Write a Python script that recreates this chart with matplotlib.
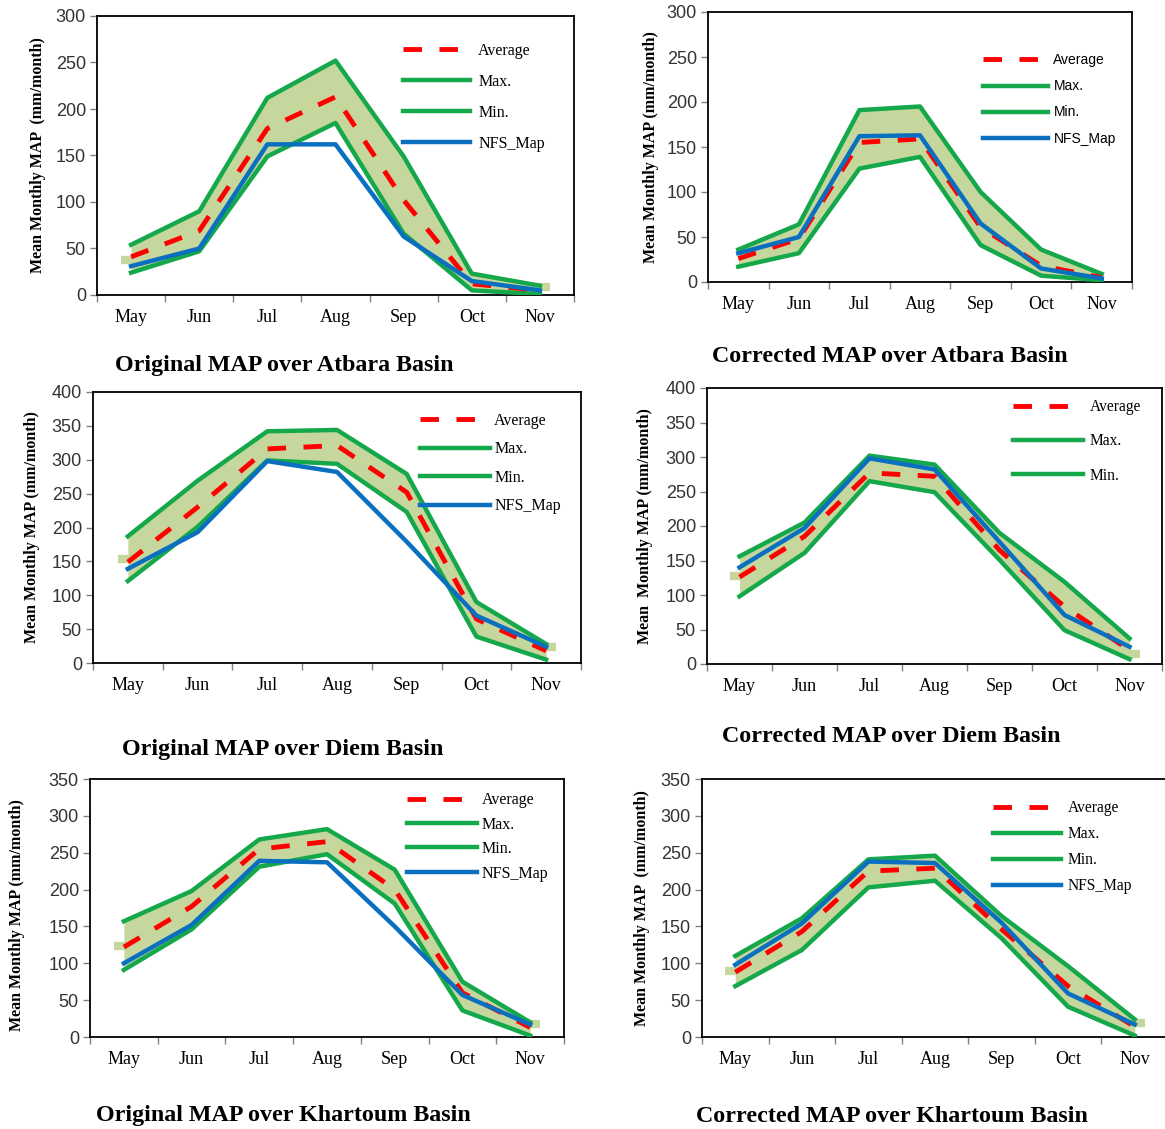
import matplotlib
matplotlib.use("Agg")
import matplotlib.pyplot as plt
import numpy as np

months = ["May", "Jun", "Jul", "Aug", "Sep", "Oct", "Nov"]

# Atbara basin
atb_orig_avg = [41, 69, 179, 213, 102, 12, 5]
atb_orig_max = [54, 90, 212, 252, 149, 23, 10]
atb_orig_min = [24, 47, 149, 185, 66, 5, 1]
atb_orig_nfs = [31, 50, 162, 162, 63, 15, 5]
atb_orig_ends = [38, 9]

atb_corr_avg = [26, 48, 155, 159, 61, 18, 5]
atb_corr_max = [36, 64, 191, 195, 100, 36, 9]
atb_corr_min = [17, 32, 126, 139, 41, 7, 2]
atb_corr_nfs = [32, 50, 162, 163, 65, 15, 4]

# Diem basin
diem_orig_avg = [149, 230, 316, 321, 252, 65, 18]
diem_orig_max = [187, 269, 342, 344, 279, 90, 28]
diem_orig_min = [121, 201, 299, 294, 223, 39, 5]
diem_orig_nfs = [139, 193, 298, 282, 179, 70, 24]
diem_orig_ends = [154, 24]

diem_corr_avg = [126, 185, 277, 272, 165, 83, 20]
diem_corr_max = [156, 205, 302, 289, 190, 119, 37]
diem_corr_min = [98, 161, 265, 249, 151, 49, 7]
diem_corr_nfs = [140, 197, 298, 282, 177, 71, 25]
diem_corr_ends = [127, 15]

# Khartoum basin
kht_orig_avg = [122, 177, 255, 265, 200, 60, 13]
kht_orig_max = [157, 198, 268, 282, 227, 75, 20]
kht_orig_min = [91, 146, 231, 248, 181, 36, 2]
kht_orig_nfs = [100, 152, 239, 237, 150, 57, 17]
kht_orig_ends = [124, 18]

kht_corr_avg = [88, 143, 225, 229, 146, 69, 14]
kht_corr_max = [110, 161, 241, 246, 164, 96, 24]
kht_corr_min = [69, 118, 203, 212, 134, 41, 2]
kht_corr_nfs = [98, 154, 238, 236, 155, 59, 17]
kht_corr_ends = [89, 19]

serif = "Liberation Serif"
sans = "Liberation Sans"
green = "#14a84b"
red = "#ff0000"
blue = "#0b6fbf"
band = "#c6d79e"

W, H = 1165, 1129
fig = plt.figure(figsize=(W / 100, H / 100), dpi=100)


def box(l, r, t, b):
    return [l / W, 1 - b / H, (r - l) / W, (b - t) / H]


panels = [
    dict(avg=atb_orig_avg, mx=atb_orig_max, mn=atb_orig_min, nfs=atb_orig_nfs, ends=atb_orig_ends,
         ymax=300, pos=(97, 574, 16, 295), title="Original MAP over Atbara Basin", tpos=(284, 366),
         ylab="Mean Monthly MAP  (mm/month)", ylpos=(38, 155),
         leg=(0.642, 0.905), lfont=serif, lsize=11.5, hl=4.2, tp=0.5, ls=0.95, show_nfs=True),
    dict(avg=atb_corr_avg, mx=atb_corr_max, mn=atb_corr_min, nfs=atb_corr_nfs, ends=None,
         ymax=300, pos=(708, 1132, 12, 282), title="Corrected MAP over Atbara Basin", tpos=(890, 356),
         ylab="Mean Monthly MAP (mm/month)", ylpos=(651, 147),
         leg=(0.649, 0.847), lfont=sans, lsize=10, hl=4.7, tp=0.36, ls=0.87, show_nfs=True),
    dict(avg=diem_orig_avg, mx=diem_orig_max, mn=diem_orig_min, nfs=diem_orig_nfs, ends=diem_orig_ends,
         ymax=400, pos=(93, 581, 392, 663), title="Original MAP over Diem Basin", tpos=(283, 749),
         ylab="Mean Monthly MAP (mm/month)", ylpos=(32, 527),
         leg=(0.670, 0.923), lfont=serif, lsize=11.5, hl=4.4, tp=0.25, ls=0.78, show_nfs=True),
    dict(avg=diem_corr_avg, mx=diem_corr_max, mn=diem_corr_min, nfs=diem_corr_nfs, ends=diem_corr_ends,
         ymax=400, pos=(707, 1162, 388, 664), title="Corrected MAP over Diem Basin", tpos=(891, 737),
         ylab="Mean  Monthly MAP (mm/month)", ylpos=(645, 526),
         leg=(0.673, 0.960), lfont=serif, lsize=11.2, hl=4.5, tp=0.4, ls=1.18, show_nfs=False),
    dict(avg=kht_orig_avg, mx=kht_orig_max, mn=kht_orig_min, nfs=kht_orig_nfs, ends=kht_orig_ends,
         ymax=350, pos=(90, 564, 779, 1037), title="Original MAP over Khartoum Basin", tpos=(283, 1116),
         ylab="Mean Monthly MAP (mm/month)", ylpos=(17, 915),
         leg=(0.669, 0.949), lfont=serif, lsize=11.5, hl=4.4, tp=0.25, ls=0.53, show_nfs=True),
    dict(avg=kht_corr_avg, mx=kht_corr_max, mn=kht_corr_min, nfs=kht_corr_nfs, ends=kht_corr_ends,
         ymax=350, pos=(702, 1168, 779, 1037), title="Corrected MAP over Khartoum Basin", tpos=(892, 1116),
         ylab="Mean Monthly MAP  (mm/month)", ylpos=(642, 908),
         leg=(0.624, 0.918), lfont=serif, lsize=11.2, hl=4.4, tp=0.4, ls=0.64, show_nfs=True),
]

x = np.arange(len(months))

for p in panels:
    ax = fig.add_axes(box(*p["pos"]))
    ax.fill_between(x, p["mn"], p["mx"], color=band, lw=0, zorder=1)
    if p["ends"] is not None:
        ax.plot([x[0], x[-1]], p["ends"], ls="none", marker="_", ms=14, mew=6,
                color=band, zorder=1, clip_on=False)
    lmax, = ax.plot(x, p["mx"], color=green, lw=3.2, zorder=3)
    lmin, = ax.plot(x, p["mn"], color=green, lw=3.2, zorder=3)
    lavg, = ax.plot(x, p["avg"], color=red, lw=3.5, dashes=(3.8, 3.6), zorder=4)
    lnfs, = ax.plot(x, p["nfs"], color=blue, lw=3.2, zorder=5)

    ax.set_xlim(-0.5, len(months) - 0.5)
    ax.set_ylim(0, p["ymax"])

    ax.set_xticks(np.arange(-0.5, len(months), 1))
    ax.set_xticks(x, minor=True)
    ax.set_xticklabels(months, minor=True, fontfamily=serif, fontsize=13)
    ax.tick_params(axis="x", which="major", length=4.8, width=1, color="#808080",
                   direction="out", labelbottom=False)
    ax.tick_params(axis="x", which="minor", length=0, pad=10)

    yt = np.arange(0, p["ymax"] + 1, 50)
    ax.set_yticks(yt)
    ax.set_yticklabels([str(v) for v in yt], fontfamily=sans, fontsize=13, color="#333333")
    ax.tick_params(axis="y", length=5, width=1, color="#808080", direction="out", pad=3)

    for s in ax.spines.values():
        s.set_linewidth(1.3)
        s.set_color("black")

    handles = [lavg, lmax, lmin]
    labels = ["Average", "Max.", "Min."]
    if p["show_nfs"]:
        handles.append(lnfs)
        labels.append("NFS_Map")
    ax.legend(handles, labels, loc="upper left", bbox_to_anchor=p["leg"], frameon=False,
              borderpad=0, borderaxespad=0, handlelength=p["hl"], handletextpad=p["tp"],
              labelspacing=p["ls"], prop={"family": p["lfont"], "size": p["lsize"]})

    fig.text(p["ylpos"][0] / W, 1 - p["ylpos"][1] / H, p["ylab"], rotation=90,
             ha="center", va="center", fontfamily=serif, fontweight="bold", fontsize=11.5)
    fig.text(p["tpos"][0] / W, 1 - p["tpos"][1] / H, p["title"], ha="center", va="center",
             fontfamily=serif, fontweight="bold", fontsize=17.3)

fig.savefig("out.png", dpi=100)
